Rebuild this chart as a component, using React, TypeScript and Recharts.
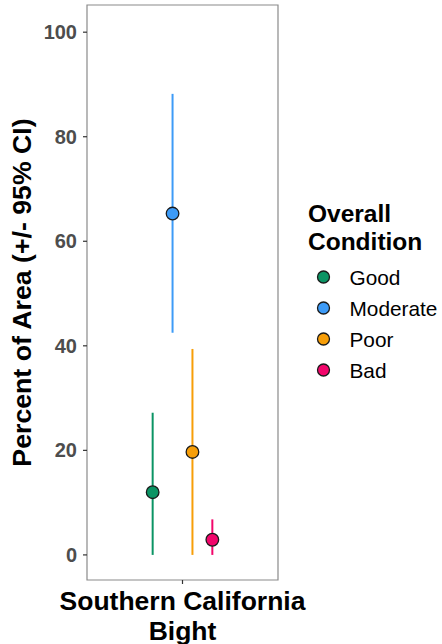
import React from "react";
import {
  ScatterChart,
  Scatter,
  XAxis,
  YAxis,
  ErrorBar,
  ReferenceArea,
  Label,
} from "recharts";

// Region on the x axis and how its name wraps under the tick
const regions = ["Southern California Bight"];
const regionLines = [["Southern California", "Bight"]];

// Overall condition classes with estimated percent of area and 95% CI
const conditions = ["Good", "Moderate", "Poor", "Bad"];
const estimates = [12.0, 65.3, 19.7, 2.9];
const lowerCI = [0, 42.5, 0, 0];
const upperCI = [27.2, 88.2, 39.4, 6.8];
const colors = ["#0B9464", "#3D9BF7", "#F79E08", "#F2066B"];

const yTicks = [0, 20, 40, 60, 80, 100];
const yTitle = "Percent of Area (+/- 95% CI)";
const legendTitle = ["Overall", "Condition"];

const FONT = "'Liberation Sans', Arial, Helvetica, sans-serif";

// dodge the four classes around the single region position
const dodgeWidth = 0.5;
const seriesData = conditions.map((name, i) => {
  const offset = -dodgeWidth / 2 + (dodgeWidth / conditions.length) * (i + 0.5);
  return {
    name,
    color: colors[i],
    data: [
      {
        region: regions[0],
        x: 1 + offset,
        y: estimates[i],
        err: [estimates[i] - lowerCI[i], upperCI[i] - estimates[i]],
      },
    ],
  };
});

const XTick = (props: any) => {
  const { x, y, index } = props;
  const lines = regionLines[index] || [regions[index]];
  return (
    <g>
      {lines.map((ln: string, k: number) => (
        <text
          key={k}
          x={x}
          y={y + 24 + k * 29.5}
          textAnchor="middle"
          fontFamily={FONT}
          fontWeight="bold"
          fontSize={26.5}
          fill="#000"
        >
          {ln}
        </text>
      ))}
    </g>
  );
};

const Dot = (props: any) => {
  const { cx, cy, fill } = props;
  if (cx == null || cy == null) return null;
  return <circle cx={cx} cy={cy} r={6.3} fill={fill} stroke="#1a1a1a" strokeWidth={1.3} />;
};

const YTitle = (props: any) => {
  const vb = props.viewBox || { x: 0, y: 5, width: 87, height: 575 };
  const cx = 22;
  const cy = vb.y + vb.height / 2;
  return (
    <text
      x={cx}
      y={cy}
      transform={`rotate(-90, ${cx}, ${cy})`}
      textAnchor="middle"
      dominantBaseline="central"
      fontFamily={FONT}
      fontWeight="bold"
      fontSize={26.7}
      fill="#000"
    >
      {yTitle}
    </text>
  );
};

export default function App() {
  return (
    <div style={{ position: "absolute", left: 0, top: 0, width: 442, height: 644, background: "#fff" }}>
      <ScatterChart
        width={442}
        height={644}
        margin={{ top: 5, right: 164, bottom: 0, left: 0 }}
      >
        <ReferenceArea
          x1={0.4}
          x2={1.6}
          y1={-4.8}
          y2={105.2}
          fill="none"
          stroke="#8a8a8a"
          strokeWidth={1.2}
          ifOverflow="visible"
        />
        <XAxis
          type="number"
          dataKey="x"
          domain={[0.4, 1.6]}
          ticks={[1]}
          allowDataOverflow
          axisLine={false}
          tickSize={4}
          tickMargin={2}
          tickLine={{ stroke: "#333", strokeWidth: 1.2 }}
          height={64}
          tick={<XTick />}
          interval={0}
        />
        <YAxis
          type="number"
          dataKey="y"
          domain={[-4.8, 105.2]}
          ticks={yTicks}
          allowDataOverflow
          axisLine={false}
          width={87}
          tickSize={4}
          tickMargin={6}
          tickLine={{ stroke: "#333", strokeWidth: 1.2 }}
          tick={{ fill: "#4d4d4d", fontSize: 20, fontWeight: "bold", fontFamily: FONT }}
        >
          <Label content={<YTitle />} position="center" />
        </YAxis>
        {seriesData.map((s) => (
          <Scatter
            key={s.name}
            name={s.name}
            data={s.data}
            fill={s.color}
            shape={<Dot />}
            isAnimationActive={false}
          >
            <ErrorBar
              dataKey="err"
              direction="y"
              width={0}
              stroke={s.color}
              strokeWidth={2}
              isAnimationActive={false}
            />
          </Scatter>
        ))}
      </ScatterChart>
      <svg
        width={442}
        height={644}
        style={{ position: "absolute", left: 0, top: 0, pointerEvents: "none" }}
      >
        {legendTitle.map((t, i) => (
          <text
            key={t}
            x={308}
            y={222 + i * 27.5}
            fontFamily={FONT}
            fontWeight="bold"
            fontSize={24.5}
            fill="#000"
          >
            {t}
          </text>
        ))}
        {conditions.map((c, i) => (
          <g key={c}>
            <circle cx={323.5} cy={277 + i * 31} r={6} fill={colors[i]} stroke="#1a1a1a" strokeWidth={1.3} />
            <text
              x={349.5}
              y={277 + i * 31}
              dominantBaseline="central"
              fontFamily={FONT}
              fontSize={20.8}
              fill="#000"
            >
              {c}
            </text>
          </g>
        ))}
      </svg>
    </div>
  );
}
